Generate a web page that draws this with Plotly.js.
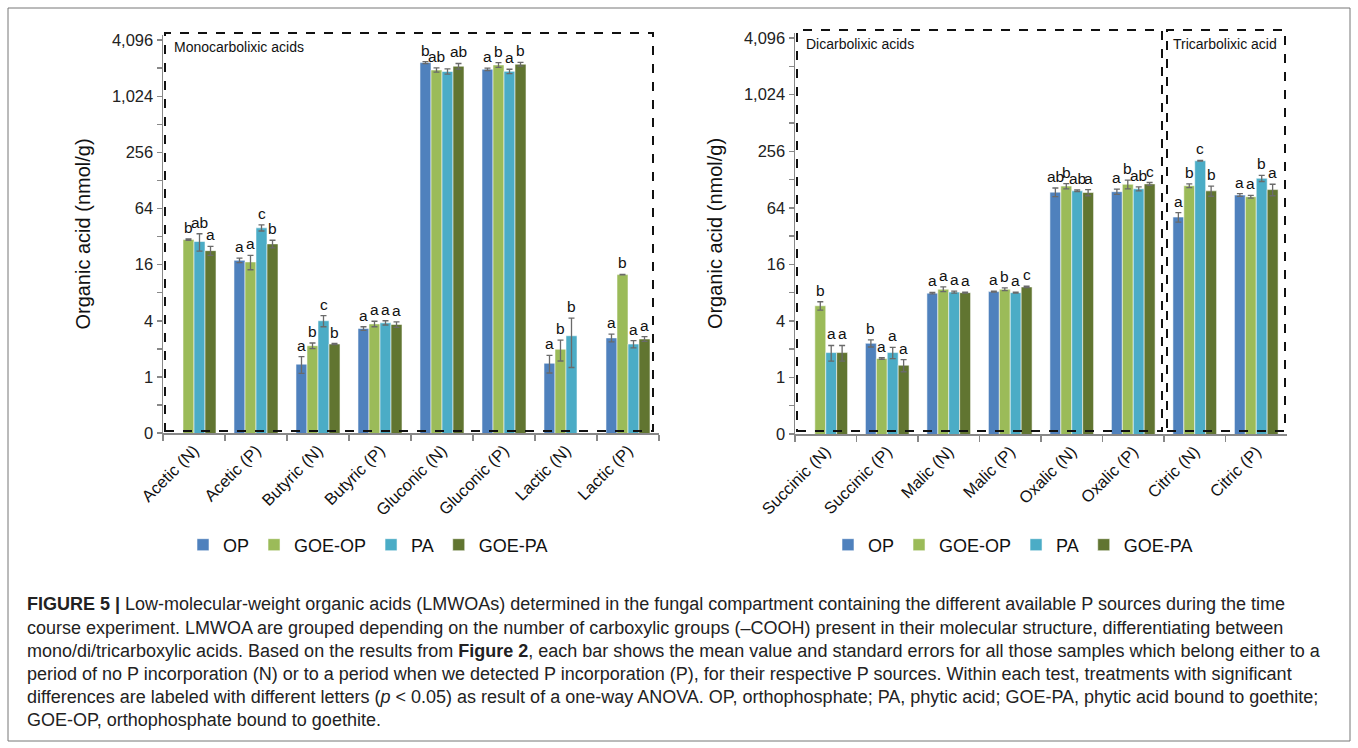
<!DOCTYPE html>
<html><head><meta charset="utf-8">
<script src="https://cdn.plot.ly/plotly-3.0.1.min.js"></script>
<style>html,body{margin:0;padding:0;background:#fff;}#chart{width:1358px;height:748px;}</style>
</head><body><div id="chart"></div>
<script>
// ---------- DATA ----------
const seriesNames = ['OP', 'GOE-OP', 'PA', 'GOE-PA'];
const seriesColors = ['#4F81BD', '#9BBB59', '#4BACC6', '#617531'];

const monoCategories = ['Acetic (N)', 'Acetic (P)', 'Butyric (N)', 'Butyric (P)', 'Gluconic (N)', 'Gluconic (P)', 'Lactic (N)', 'Lactic (P)'];
const monoOP     = [null, 17.8, 1.37, 3.3, 2350, 1995, 1.4, 2.62];
const monoGOEOP  = [29.7, 17.1, 2.16, 3.7, 1960, 2220, 1.98, 12.5];
const monoPA     = [28.3, 39.7, 4.0, 3.8, 1890, 1895, 2.76, 2.25];
const monoGOEPA  = [22.6, 26.7, 2.25, 3.65, 2150, 2260, null, 2.55];
const monoErrOP    = [0, 1.0, 0.28, 0.15, 60, 60, 0.3, 0.25];
const monoErrGOEOP = [0.5, 3.0, 0.15, 0.25, 100, 130, 0.5, 0.1];
const monoErrPA    = [6.0, 3.0, 0.55, 0.2, 120, 100, 1.5, 0.2];
const monoErrGOEPA = [2.5, 2.5, 0.03, 0.25, 150, 110, 0, 0.15];
const monoLetOP    = ['', 'a', 'a', 'a', 'b', 'a', 'a', 'a'];
const monoLetGOEOP = ['b', 'a', 'b', 'a', 'ab', 'b', 'b', 'b'];
const monoLetPA    = ['ab', 'c', 'c', 'a', '', 'a', 'b', 'a'];
const monoLetGOEPA = ['a', 'b', 'b', 'a', 'ab', 'b', '', 'a'];

const diCategories = ['Succinic (N)', 'Succinic (P)', 'Malic (N)', 'Malic (P)', 'Oxalic (N)', 'Oxalic (P)', 'Citric (N)', 'Citric (P)'];
const diOP     = [null, 2.31, 7.9, 8.2, 94, 95, 51, 87.5];
const diGOEOP  = [5.8, 1.59, 8.7, 8.7, 109, 114, 110, 84];
const diPA     = [1.84, 1.84, 8.1, 8.0, 97, 102, 203, 132];
const diGOEPA  = [1.84, 1.35, 8.0, 9.2, 93, 115, 97, 100];
const diErrOP    = [0, 0.2, 0.15, 0.1, 10, 6, 6, 3];
const diErrGOEOP = [0.6, 0.03, 0.5, 0.3, 7, 12, 5, 3];
const diErrPA    = [0.35, 0.25, 0.2, 0.1, 2, 5, 2, 10];
const diErrGOEPA = [0.35, 0.2, 0.1, 0.15, 7, 4, 12, 14];
const diLetOP    = ['', 'b', 'a', 'a', 'ab', 'a', 'a', 'a'];
const diLetGOEOP = ['b', 'a', 'a', 'b', 'b', 'b', 'b', 'a'];
const diLetPA    = ['a', 'a', 'a', 'a', 'ab', 'ab', 'c', 'b'];
const diLetGOEPA = ['a', 'a', 'a', 'c', 'a', 'c', 'b', 'a'];

const yTickVals = [0.25, 1, 4, 16, 64, 256, 1024, 4096];
const yTickText = ['0', '1', '4', '16', '64', '256', '1,024', '4,096'];
const yMinorVals = [0.5, 2, 8, 32, 128, 512, 2048];

const captionLines = [
  '<b>FIGURE 5 |</b> Low-molecular-weight organic acids (LMWOAs) determined in the fungal compartment containing the different available P sources during the time',
  'course experiment. LMWOA are grouped depending on the number of carboxylic groups (–COOH) present in their molecular structure, differentiating between',
  'mono/di/tricarboxylic acids. Based on the results from <b>Figure 2</b>, each bar shows the mean value and standard errors for all those samples which belong either to a',
  'period of no P incorporation (N) or to a period when we detected P incorporation (P), for their respective P sources. Within each test, treatments with significant',
  'differences are labeled with different letters (<i>p</i> &lt; 0.05) as result of a one-way ANOVA. OP, orthophosphate; PA, phytic acid; GOE-PA, phytic acid bound to goethite;',
  'GOE-OP, orthophosphate bound to goethite.'
];

// ---------- LAYOUT HELPERS ----------
const W = 1358, H = 748;
const px = x => x / W;
const py = y => 1 - y / H;
const FONT = 'Liberation Sans, Arial, sans-serif';

const monoVals = [monoOP, monoGOEOP, monoPA, monoGOEPA];
const monoErrs = [monoErrOP, monoErrGOEOP, monoErrPA, monoErrGOEPA];
const monoLets = [monoLetOP, monoLetGOEOP, monoLetPA, monoLetGOEPA];
const diVals = [diOP, diGOEOP, diPA, diGOEPA];
const diErrs = [diErrOP, diErrGOEOP, diErrPA, diErrGOEPA];
const diLets = [diLetOP, diLetGOEOP, diLetPA, diLetGOEPA];

const traces = [];
function addPanel(cats, vals, errs, xa, ya, legendName) {
  for (let i = 0; i < 4; i++) {
    traces.push({
      type: 'bar', name: seriesNames[i], x: cats, y: vals[i],
      xaxis: xa, yaxis: ya, legend: legendName,
      marker: { color: seriesColors[i], line: { color: 'rgba(255,255,255,0.55)', width: 1 } },
      error_y: { type: 'data', array: errs[i], visible: true, color: '#6a6a6a', thickness: 1.3, width: 3 },
      hoverinfo: 'x+y+name'
    });
  }
}
addPanel(monoCategories, monoVals, monoErrs, 'x', 'y', 'legend');
addPanel(diCategories, diVals, diErrs, 'x2', 'y2', 'legend2');

const BARW = 11; // px per bar in group
const annotations = [];
function addLetters(cats, vals, errs, lets, xa, ya) {
  for (let i = 0; i < 4; i++) {
    for (let c = 0; c < cats.length; c++) {
      const v = vals[i][c];
      if (v == null || !lets[i][c]) continue;
      annotations.push({
        xref: xa, yref: ya, x: cats[c], y: Math.log10(v + (errs[i][c] || 0)),
        xshift: (i - 1.5) * BARW, yshift: 1, yanchor: 'bottom', xanchor: 'center',
        text: lets[i][c], showarrow: false, font: { family: FONT, size: 15.5, color: '#111' }
      });
    }
  }
}
addLetters(monoCategories, monoVals, monoErrs, monoLets, 'x', 'y');
addLetters(diCategories, diVals, diErrs, diLets, 'x2', 'y2');

// panel labels
annotations.push({ xref: 'paper', yref: 'paper', x: px(172), y: py(47), xanchor: 'left', yanchor: 'middle', showarrow: false,
  text: 'Monocarbolixic acids', font: { family: FONT, size: 14, color: '#111' } });
annotations.push({ xref: 'paper', yref: 'paper', x: px(804), y: py(44), xanchor: 'left', yanchor: 'middle', showarrow: false,
  text: 'Dicarbolixic acids', font: { family: FONT, size: 14, color: '#111' } });
annotations.push({ xref: 'paper', yref: 'paper', x: px(1171), y: py(44), xanchor: 'left', yanchor: 'middle', showarrow: false,
  text: 'Tricarbolixic acid', font: { family: FONT, size: 14, color: '#111' } });

// caption
const capY = [604, 628, 651, 674, 697, 720];
captionLines.forEach((t, k) => {
  annotations.push({ xref: 'paper', yref: 'paper', x: px(25), y: py(capY[k]), xanchor: 'left', yanchor: 'middle', showarrow: false,
    text: t, font: { family: FONT, size: 18, color: '#222' } });
});

const dash = { color: '#111', width: 2, dash: 'dash' };
const shapes = [
  // outer frame
  { type: 'rect', xref: 'paper', yref: 'paper', x0: px(8), x1: px(1350), y0: py(741), y1: py(8), line: { color: '#777', width: 1 } },
  // mono box
  { type: 'rect', xref: 'paper', yref: 'paper', x0: px(165), x1: px(653), y0: py(431), y1: py(33), line: dash },
  // di box
  { type: 'rect', xref: 'paper', yref: 'paper', x0: px(797), x1: px(1162), y0: py(431), y1: py(30), line: dash },
  // tri box
  { type: 'rect', xref: 'paper', yref: 'paper', x0: px(1167), x1: px(1285), y0: py(431), y1: py(30), line: dash }
];

const yBase = {
  type: 'log', range: [Math.log10(0.25), Math.log10(4096) + 0.055],
  tickmode: 'array', tickvals: yTickVals, ticktext: yTickText,
  ticks: 'outside', ticklen: 5, tickcolor: '#888', tickwidth: 1.5,
  minor: { tickmode: 'array', tickvals: yMinorVals, ticks: 'outside', ticklen: 5, tickcolor: '#888', tickwidth: 1.5, showgrid: false },
  showline: true, linecolor: '#888', linewidth: 1.5, showgrid: false, zeroline: false,
  tickfont: { family: FONT, size: 16.5, color: '#222' },
  title: { text: 'Organic acid (nmol/g)', font: { family: FONT, size: 20, color: '#111' }, standoff: 16 }
};
const xBase = {
  type: 'category', tickson: 'boundaries', ticks: 'outside', ticklen: 6, tickcolor: '#888', tickwidth: 1.5,
  showline: true, linecolor: '#888', linewidth: 1.5, showgrid: false, tickangle: -45,
  tickfont: { family: FONT, size: 16.5, color: '#111' }
};

const legBase = {
  orientation: 'h', xanchor: 'center', yanchor: 'middle', font: { family: FONT, size: 18, color: '#111' },
  itemwidth: 30, tracegroupgap: 0, bgcolor: 'rgba(0,0,0,0)'
};

const layout = {
  width: W, height: H, margin: { l: 0, r: 0, t: 0, b: 0 },
  paper_bgcolor: '#fff', plot_bgcolor: 'rgba(0,0,0,0)',
  barmode: 'group', bargap: 0.29, bargroupgap: 0,
  xaxis: Object.assign({}, xBase, { domain: [px(163), px(659)], anchor: 'y' }),
  yaxis: Object.assign({}, yBase, { domain: [py(433), py(35)], anchor: 'x' }),
  xaxis2: Object.assign({}, xBase, { domain: [px(795), px(1287)], anchor: 'y2' }),
  yaxis2: Object.assign({}, yBase, { domain: [py(434), py(33)], anchor: 'x2' }),
  legend: Object.assign({}, legBase, { x: px(368), y: py(545) }),
  legend2: Object.assign({}, legBase, { x: px(1013), y: py(545) }),
  showlegend: true,
  annotations: annotations,
  shapes: shapes
};

Plotly.newPlot('chart', traces, layout, { displayModeBar: false, staticPlot: true });
</script></body></html>
